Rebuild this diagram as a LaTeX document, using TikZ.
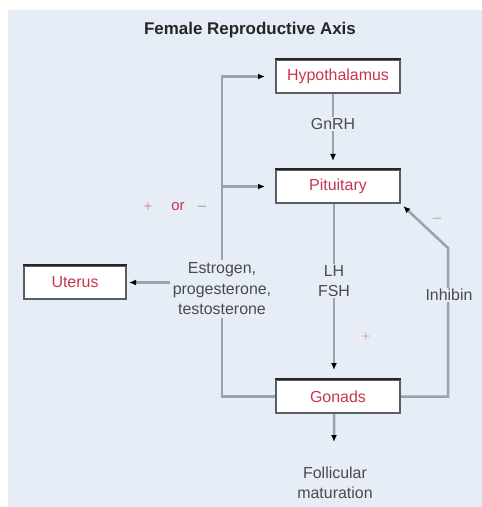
\documentclass[tikz,border=0pt]{standalone}
\usepackage{fontspec}
\setmainfont{Liberation Sans}
\usetikzlibrary{arrows.meta,calc}
\definecolor{bg}{HTML}{E6EDF6}
\definecolor{boxred}{HTML}{C8344F}
\definecolor{linegray}{HTML}{9AA2AC}
\definecolor{boxedge}{HTML}{5A5F66}
\definecolor{labelgray}{HTML}{4A4A4A}
\begin{document}
\begin{tikzpicture}[x=1bp,y=-1bp,
  font=\fontsize{16}{20.5}\selectfont,
  box/.style={draw=boxedge, line width=2bp, fill=white, minimum width=124bp,
    minimum height=33bp, inner sep=0pt, text=boxred},
  topedge/.style={draw=black!85, line width=2.5bp},
  lbl/.style={text=labelgray, align=center, inner sep=1bp},
  bglbl/.style={lbl, fill=bg},
  conn/.style={draw=linegray, line width=2.5bp,
    -{Latex[length=7bp,width=6bp,color=black]}},
  sign/.style={font=\fontsize{15}{18}\selectfont}
]
\useasboundingbox (0,0) rectangle (482,507);
\fill[bg] (8,10) rectangle (482,507);

\node[font=\fontsize{17}{20}\selectfont\bfseries, text=black!85] (title) at (250,30) {Female Reproductive Axis};

\node[box] (hyp) at (338,76.5) {Hypothalamus};
\node[box] (pit) at (338,186.5) {Pituitary};
\node[box] (gon) at (338,396.5) {Gonads};
\node[box, minimum width=102bp] (ut) at (75,282.5) {Uterus};
\foreach \n in {hyp,pit,gon,ut} \draw[topedge] (\n.north west) -- (\n.north east);

% GnRH
\draw[conn, shorten >=8bp] ([xshift=-5bp]hyp.south) -- ([xshift=-5bp]pit.north);
\node[bglbl] (gnrh) at (333,124) {GnRH};

% LH / FSH
\draw[conn, shorten >=9bp] ([xshift=-4bp]pit.south) -- ([xshift=-4bp]gon.north);
\node[bglbl] (lhfsh) at (334,281) {LH\\FSH};
\node[sign, text=boxred!45] (plus2) at (366,337) {+};

% left feedback loop
\coordinate (lb) at (222,396.5);
\draw[conn, shorten >=10bp] (gon.west) -- (lb) |- (hyp.west);
\draw[conn, shorten >=10bp] (lb |- pit.west) -- (pit.west);
\node[bglbl, inner sep=3bp] (est) at (222,289) {Estrogen,\\progesterone,\\testosterone};
\draw[conn, shorten >=2bp] (ut.east -| est.west) -- (ut.east);

\node[sign, text=boxred!55] (plus1) at (148,207) {+};
\node[sign, text=boxred] (or) at (178,207) {or};
\node[sign, text=labelgray!55] (minus1) at (202,208) {--};

% inhibin loop
\coordinate (ib) at (448,396.5);
\coordinate (it) at (448,248);
\draw[conn, shorten >=3bp] (gon.east) -- (ib) -- (it) -- (pit.south east);
\node[bglbl] (inh) at (449,295) {Inhibin};
\node[sign, text=labelgray!45] (minus2) at (437,220) {--};

% follicular maturation
\coordinate (fend) at (334,442);
\draw[conn] ([xshift=-4bp]gon.south) -- (fend);
\node[lbl] (fol) at (335,483) {Follicular\\maturation};
\end{tikzpicture}
\end{document}
